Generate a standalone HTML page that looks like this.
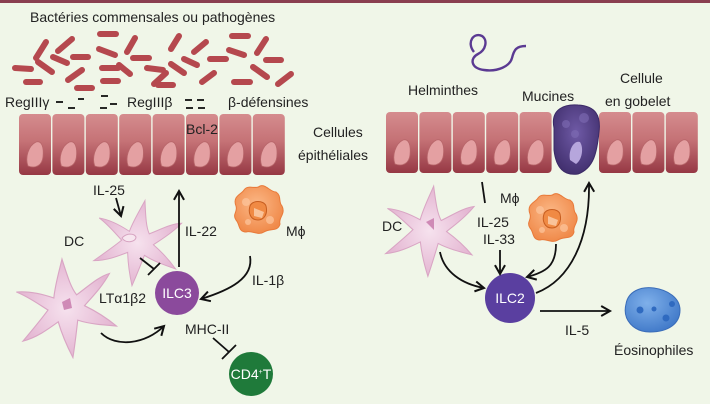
<!DOCTYPE html>
<html><head><meta charset="utf-8"><style>
html,body{margin:0;padding:0;background:#f0f6e8;}
svg{display:block;}
text{font-family:"Liberation Sans","DejaVu Sans",sans-serif;font-size:14px;fill:#222;}
</style></head><body>
<svg width="710" height="404" viewBox="0 0 710 404" xmlns="http://www.w3.org/2000/svg">
<defs>
<linearGradient id="cell" x1="0" y1="0" x2="0" y2="1">
<stop offset="0" stop-color="#d58c8e"/><stop offset="0.45" stop-color="#c57276"/><stop offset="1" stop-color="#963844"/>
</linearGradient>
<radialGradient id="orange" cx="0.45" cy="0.4" r="0.6"><stop offset="0" stop-color="#fbb887"/><stop offset="1" stop-color="#f08a4a"/></radialGradient>
<radialGradient id="pink" cx="0.5" cy="0.5" r="0.5"><stop offset="0" stop-color="#f6e2ee"/><stop offset="1" stop-color="#e4b6d2"/></radialGradient>
<radialGradient id="blue" cx="0.4" cy="0.35" r="0.7"><stop offset="0" stop-color="#7fb0ea"/><stop offset="1" stop-color="#3f78c8"/></radialGradient>
<radialGradient id="gob" cx="0.5" cy="0.4" r="0.6"><stop offset="0" stop-color="#6f5aa6"/><stop offset="1" stop-color="#433170"/></radialGradient>
<marker id="ar" viewBox="0 0 10 10" refX="8" refY="5" markerWidth="7" markerHeight="7" orient="auto"><path d="M1,1 L8,5 L1,9" fill="none" stroke="#111" stroke-width="1.6"/></marker>
<g id="cellg">
<rect x="0" y="0" width="32" height="61" rx="4" fill="url(#cell)"/>
<path d="M9,52 C6,44 9,32 17,28 C23,26 25,34 24,43 C23,51 17,55 9,52Z" fill="#e4a0a2" stroke="#b8666a" stroke-width="0.8"/>
</g>
<g id="star">
<path d="M0,-40 C4,-22 6,-14 10,-8 C20,-14 30,-22 40,-24 C32,-12 22,-4 16,2 C26,8 34,14 42,22 C30,20 18,18 9,14 C7,24 5,34 2,46 C-3,34 -6,24 -8,14 C-18,20 -28,26 -40,28 C-30,18 -22,10 -16,3 C-24,-3 -32,-10 -42,-15 C-30,-15 -19,-11 -10,-7 C-8,-18 -4,-28 0,-40Z" fill="url(#pink)" stroke="#d9a5c4" stroke-width="1"/>
</g>
<g id="mac">
<path d="M-22,-4 C-26,-14 -16,-16 -14,-20 C-10,-26 -2,-20 2,-24 C8,-26 12,-18 18,-18 C24,-14 20,-8 24,-4 C28,4 20,8 22,14 C20,22 12,18 6,22 C0,26 -6,20 -12,22 C-20,22 -18,14 -22,10 C-26,4 -20,2 -22,-4Z" fill="url(#orange)" stroke="#e87a3a" stroke-width="1"/>
<circle cx="-12" cy="-8" r="4" fill="#fcc69e" opacity=".7"/><circle cx="12" cy="10" r="4" fill="#fcc69e" opacity=".7"/><circle cx="-10" cy="12" r="3" fill="#fcc69e" opacity=".7"/>
<path d="M-8,-4 C-6,-10 6,-10 8,-4 C10,4 6,10 0,10 C-8,10 -10,2 -8,-4Z" fill="#f08a44" stroke="#c85e20" stroke-width="1"/>
<path d="M-4,-2 L6,2 L4,8 L-4,6Z" fill="#f9c39a"/>
</g>
</defs>

<rect x="0" y="0" width="710" height="3" fill="#8a3f50"/>

<text x="30" y="22" font-size="15">Bactéries commensales ou pathogènes</text>

<g stroke="#b5484e" stroke-width="6" stroke-linecap="round" fill="none">
<path d="M15,68 L31,69"/><path d="M36,58 L46,42"/><path d="M38,62 L52,72"/><path d="M26,82 L40,82"/>
<path d="M58,51 L72,39"/><path d="M53,57 L67,63"/><path d="M73,57 L88,57"/><path d="M68,80 L82,70"/>
<path d="M77,88 L92,88"/><path d="M100,34 L116,34"/><path d="M99,49 L115,55"/><path d="M127,52 L135,38"/>
<path d="M133,58 L149,58"/><path d="M102,68 L118,68"/><path d="M119,65 L130,74"/><path d="M103,81 L118,81"/>
<path d="M147,68 L163,70"/><path d="M154,84 L166,73"/><path d="M171,49 L179,36"/><path d="M171,64 L184,73"/>
<path d="M158,85 L173,85"/><path d="M194,52 L206,42"/><path d="M184,59 L197,65"/><path d="M210,59 L226,59"/>
<path d="M202,82 L214,73"/><path d="M232,36 L248,36"/><path d="M229,50 L244,55"/><path d="M257,53 L266,39"/>
<path d="M266,60 L281,60"/><path d="M253,67 L267,77"/><path d="M234,82 L250,82"/><path d="M278,84 L291,74"/>
</g>
<g stroke="#111" stroke-width="1.8">
<path d="M56,102 L63,102"/><path d="M68,108 L75,108"/><path d="M78,99 L84,99"/><path d="M101,96 L108,96"/>
<path d="M100,108 L107,108"/><path d="M110,104 L117,104"/><path d="M185,100 L192,100"/><path d="M186,108 L193,108"/>
<path d="M197,100 L204,100"/><path d="M198,108 L205,108"/>
</g>
<text x="5" y="107" font-size="14">RegIIIγ</text>
<text x="127" y="107" font-size="14">RegIIIβ</text>
<text x="228" y="107" font-size="14">β-défensines</text>

<g transform="translate(19,114)">
<use href="#cellg" x="0"/><use href="#cellg" x="33.4"/><use href="#cellg" x="66.8"/><use href="#cellg" x="100.2"/>
<use href="#cellg" x="133.6"/><use href="#cellg" x="167"/><use href="#cellg" x="200.4"/><use href="#cellg" x="233.8"/>
</g>
<text x="186" y="134">Bcl-2</text>
<text x="313" y="137">Cellules</text>
<text x="298" y="160">épithéliales</text>

<use href="#star" transform="translate(138,240) scale(1.0) rotate(10)"/>
<path d="M122,238 C126,233 134,233 136,237 C136,242 126,244 122,238Z" fill="#f7e6ef" stroke="#d6a2c0"/>
<use href="#star" transform="translate(66,305) scale(1.15) rotate(-5)"/>
<path d="M62,302 L70,298 L72,308 L64,310Z" fill="#cf8ab6"/>
<use href="#mac" transform="translate(258,210)"/>
<circle cx="177" cy="293" r="22" fill="#8b4a9c"/>
<text x="177" y="298" font-size="13" text-anchor="middle" style="fill:#fff">ILC3</text>
<circle cx="251" cy="374" r="22" fill="#1f7a3a"/>
<text x="251" y="379" font-size="13" text-anchor="middle" style="fill:#fff">CD4<tspan font-size="7" dy="-5" style="fill:#fff">+</tspan><tspan dy="5" style="fill:#fff">T</tspan></text>

<text x="93" y="195">IL-25</text>
<text x="64" y="246">DC</text>
<text x="185" y="236">IL-22</text>
<text x="286" y="236">Mϕ</text>
<text x="252" y="285">IL-1β</text>
<text x="99" y="303">LTα1β2</text>
<text x="185" y="334">MHC-II</text>

<g stroke="#111" stroke-width="1.8" fill="none">
<path d="M116,198 L121,216" marker-end="url(#ar)"/>
<path d="M179,267 L179,191" marker-end="url(#ar)"/>
<path d="M140,258 L154,269"/><path d="M148,275 L160,263"/>
<path d="M250,256 C254,278 230,290 201,299" marker-end="url(#ar)"/>
<path d="M101,333 C116,348 146,344 164,326" marker-end="url(#ar)"/>
<path d="M213,338 L229,352"/><path d="M222,359 L236,345"/>
</g>

<path d="M474,52 C466,42 474,32 482,36 C488,40 486,50 478,54 C470,58 470,68 484,70 C498,72 510,66 512,58 C514,50 516,46 526,46" fill="none" stroke="#5b3a92" stroke-width="2.4"/>
<text x="408" y="95">Helminthes</text>
<text x="522" y="101">Mucines</text>
<text x="620" y="83">Cellule</text>
<text x="605" y="106">en gobelet</text>
<g transform="translate(386,112)">
<use href="#cellg" x="0"/><use href="#cellg" x="33.4"/><use href="#cellg" x="66.8"/><use href="#cellg" x="100.2"/><use href="#cellg" x="133.6"/>
<use href="#cellg" x="213"/><use href="#cellg" x="246.4"/><use href="#cellg" x="279.8"/>
</g>
<path d="M554,128 C550,108 566,104 578,105 C596,106 601,116 599,132 C597,152 594,168 578,174 C564,176 556,168 554,150Z" fill="url(#gob)" stroke="#3b2a66"/>
<circle cx="566" cy="124" r="4" fill="#7f6cb4" opacity=".6"/><circle cx="584" cy="118" r="5" fill="#7f6cb4" opacity=".6"/><circle cx="575" cy="134" r="4" fill="#7f6cb4" opacity=".6"/>
<path d="M570,160 C568,150 574,140 580,142 C584,148 582,160 576,164Z" fill="#b6a6dc"/>

<use href="#star" transform="translate(430,228) scale(1.05) rotate(5)"/>
<path d="M426,222 L434,218 L434,230Z" fill="#cf8ab6"/>
<use href="#mac" transform="translate(552,218)"/>
<circle cx="510" cy="298" r="25" fill="#5a3fa0"/>
<text x="510" y="303" font-size="13" text-anchor="middle" style="fill:#fff">ILC2</text>
<path d="M626,304 C628,292 640,286 654,288 C668,290 680,298 680,310 C680,324 668,332 650,332 C634,332 622,320 626,304Z" fill="url(#blue)" stroke="#3a6cb8"/>
<circle cx="640" cy="310" r="3.5" fill="#2f6ac0"/><circle cx="654" cy="309" r="2.5" fill="#2f6ac0"/><circle cx="666" cy="318" r="3.5" fill="#2f6ac0"/><circle cx="672" cy="304" r="3" fill="#2f6ac0"/>

<text x="382" y="231">DC</text>
<text x="500" y="203">Mϕ</text>
<text x="477" y="227">IL-25</text>
<text x="483" y="244">IL-33</text>
<text x="565" y="335">IL-5</text>
<text x="614" y="355">Éosinophiles</text>

<g stroke="#111" stroke-width="1.8" fill="none">
<path d="M482,182 L485,203"/>
<path d="M500,250 L500,274" marker-end="url(#ar)"/>
<path d="M440,252 C444,272 462,284 484,288" marker-end="url(#ar)"/>
<path d="M556,244 C556,266 546,272 527,277" marker-end="url(#ar)"/>
<path d="M536,293 C570,280 590,240 589,183" marker-end="url(#ar)"/>
<path d="M540,311 L610,311" marker-end="url(#ar)"/>
</g>
</svg>
</body></html>
